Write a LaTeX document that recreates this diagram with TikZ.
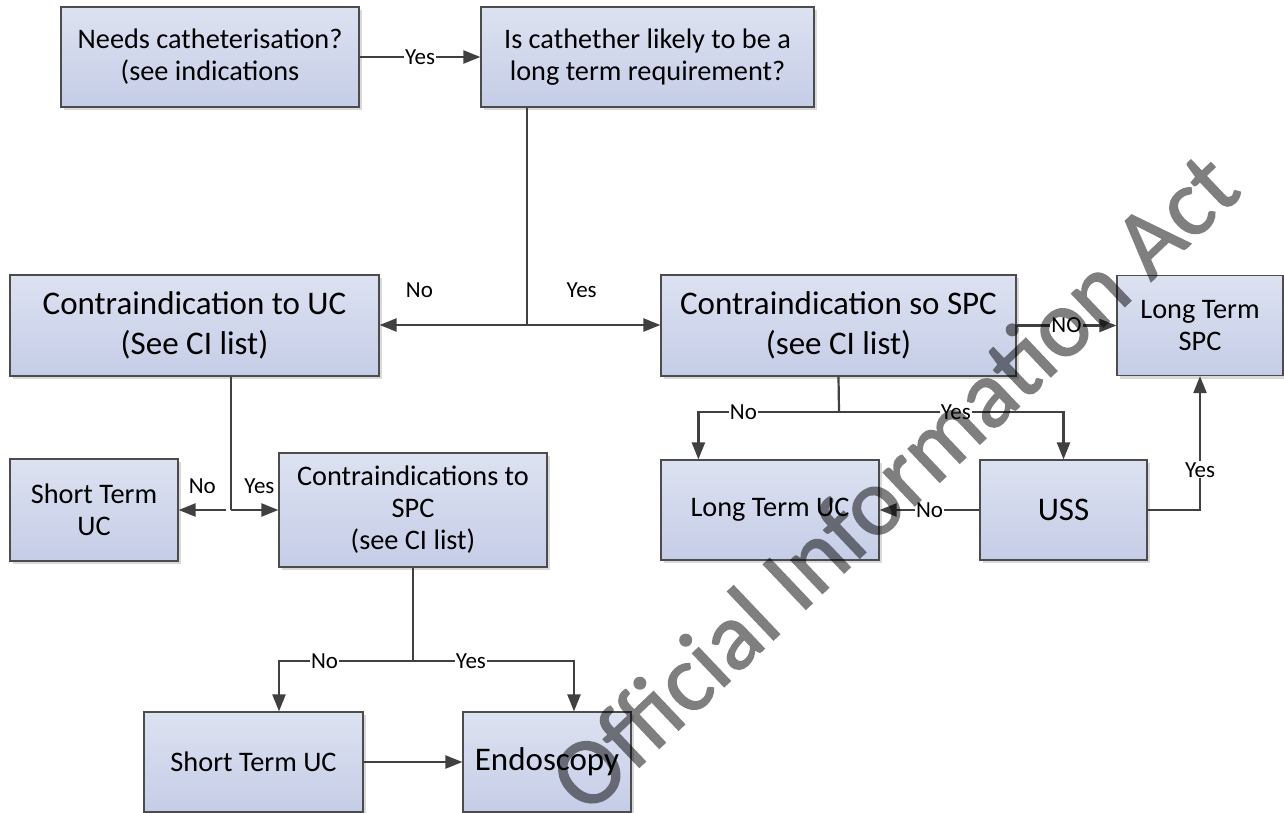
\documentclass[tikz,border=0pt]{standalone}
\usepackage{fontspec}
\setmainfont{Carlito}
\newfontfamily\markfont[FakeBold=1.5]{Carlito}
\usetikzlibrary{arrows.meta, shadows}
\definecolor{boxtop}{RGB}{221,226,241}
\definecolor{boxbot}{RGB}{197,205,231}
\definecolor{linegray}{RGB}{64,64,64}
\begin{document}
\begin{tikzpicture}[x=1pt, y=-1pt,
    box/.style={draw=black!70, line width=1.2pt, top color=boxtop, bottom color=boxbot, align=center, inner sep=0pt,
        drop shadow={shadow xshift=3pt, shadow yshift=-3pt, fill=black!15, opacity=1}},
    small/.style={font=\fontsize{28.3}{32}\selectfont},
    big/.style={font=\fontsize{33}{40}\selectfont},
    wire/.style={draw=linegray, line width=2.2pt},
    arr/.style={wire, -{Triangle[length=17pt, width=13pt]}},
    lbl/.style={font=\fontsize{23}{27}\selectfont, fill=white, inner sep=1pt},
    note/.style={font=\fontsize{23}{27}\selectfont, inner sep=0pt}]
        % page
        \path[use as bounding box, fill=white] (0, 0) rectangle (1284, 813);
        % draw boxes of first row
        \node[box, small, minimum width=298pt, minimum height=100pt] (need) at (210, 57) {Needs catheterisation?\\(see indications};
        \node[box, small, minimum width=333pt, minimum height=100pt] (longterm) at (647.5, 57) {Is cathether likely to be a\\long term requirement?};
        % draw boxes of second row
        \node[box, big, minimum width=369pt, minimum height=101pt] (ciuc) at (194.5, 325.5) {Contraindication to UC\\(See CI list)};
        \node[box, big, minimum width=355pt, minimum height=101pt] (cispc) at (838.5, 325.5) {Contraindication so SPC\\(see CI list)};
        \node[box, small, minimum width=166pt, minimum height=100pt] (ltspc) at (1200, 325.5) {Long Term\\SPC};
        % draw boxes of third row
        \node[box, small, minimum width=168pt, minimum height=102pt] (stuca) at (94, 510) {Short Term\\UC};
        \node[box, small, minimum width=268pt, minimum height=114pt] (cispcb) at (413, 510) {Contraindications to\\SPC\\(see CI list)};
        \node[box, small, minimum width=218pt, minimum height=100pt] (ltuc) at (770, 510) {Long Term UC};
        \node[box, big, minimum width=167pt, minimum height=100pt] (uss) at (1063.5, 510) {USS};
        % draw boxes of last row
        \node[box, small, minimum width=219pt, minimum height=100pt] (stucb) at (253.5, 762) {Short Term UC};
        \node[box, big, minimum width=168pt, minimum height=100pt] (endo) at (547, 762) {Endoscopy};
        % draw first decision
        \draw[arr] (need) -- node[lbl] {Yes} (longterm);
        % draw long term split
        \coordinate (split1) at (527, 325);
        \draw[wire] (longterm.south -| split1) -- (split1);
        \draw[arr] (split1) -- node[note, pos=0.73, yshift=35pt] {No} (split1 -| ciuc.east);
        \draw[arr] (split1) -- node[note, pos=0.41, yshift=35pt] {Yes} (split1 -| cispc.west);
        % draw SPC side
        \draw[arr] (cispc.east) -- node[lbl] {NO} (ltspc.west);
        \coordinate (split2) at (839, 412);
        \draw[wire] (cispc.south) -- (split2);
        \draw[arr] (split2) -| node[lbl, pos=0.34] {No} ([xshift=38pt]ltuc.north west);
        \draw[arr] (split2) -| node[lbl, pos=0.26] {Yes} (uss.north);
        \draw[arr] (uss) -- node[lbl] {No} (ltuc);
        \draw[arr] (uss.east) -| node[lbl, pos=0.65] {Yes} (ltspc.south);
        % draw UC side
        \coordinate (split3) at (231, 510);
        \draw[wire] (split3 |- ciuc.south) -- (split3);
        \draw[arr] (split3) -- node[note, pos=0.6, yshift=24pt] {Yes} (cispcb);
        \draw[arr] ([xshift=-5pt]split3) -- node[note, yshift=24pt] {No} (stuca);
        \coordinate (split4) at (413, 661);
        \draw[wire] (cispcb.south) -- (split4);
        \draw[arr] (split4) -| node[lbl, pos=0.33] {No} ([xshift=25.5pt]stucb.north);
        \draw[arr] (split4) -| node[lbl, pos=0.18] {Yes} ([xshift=27pt]endo.north);
        \draw[arr] (stucb) -- (endo);
        % draw watermark
        \begin{scope}[transparency group, opacity=0.5]
            \node[rotate=43.5, text=black, font=\markfont\fontsize{96}{96}\selectfont] (mark) at (893, 481) {Official Information Act};
        \end{scope}
    \end{tikzpicture}
\end{document}
